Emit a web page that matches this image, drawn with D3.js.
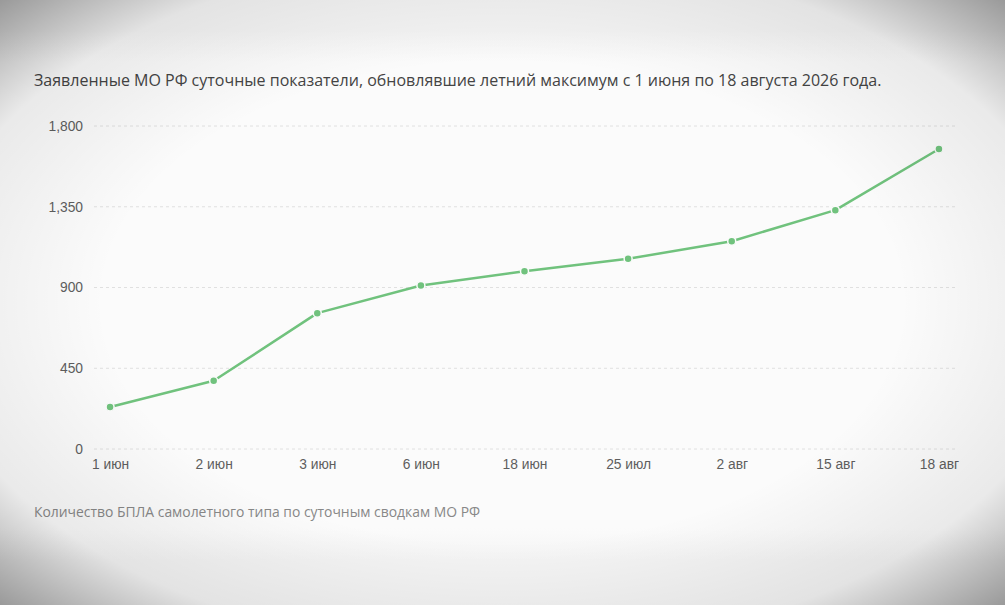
<!DOCTYPE html>
<html>
<head>
<meta charset="utf-8">
<script src="https://cdn.jsdelivr.net/npm/d3@7"></script>
<style>
    html, body { margin: 0; padding: 0; background: #f4f4f4; }
    svg { display: block; font-family: "Open Sans", "Noto Sans", sans-serif; }
    .grid line { stroke: #e0e0e0; stroke-dasharray: 3 3; }
    .axis text { fill: #5e5e5e; font-size: 13.8px; }
    .title { fill: #444; font-size: 16px; }
    .note { fill: #888; font-size: 13.9px; }
</style>
</head>
<body>
<svg id="chart" width="1005" height="605"></svg>
<script>

const dates = ["1 июн", "2 июн", "3 июн", "6 июн", "18 июн", "25 июл", "2 авг", "15 авг", "18 авг"];
const drones = [234, 380, 757, 911, 991, 1060, 1158, 1331, 1672];
const yTicks = [0, 450, 900, 1350, 1800];

const titleText = "Заявленные МО РФ суточные показатели, обновлявшие летний максимум с 1 июня по 18 августа 2026 года.";
const noteText = "Количество БПЛА самолетного типа по суточным сводкам МО РФ";

const svg = d3.select("#chart");
const width = 1005, height = 605;
const margin = { left: 94, right: 50, top: 126, bottom: 156 };

let defs = svg.append("defs");

// soft panel behind the chart
let panelGrad = defs.append("linearGradient")
    .attr("id", "panel")
    .attr("x1", 0).attr("y1", 0).attr("x2", 0).attr("y2", 1);
panelGrad.append("stop").attr("offset", "0").attr("stop-color", "#fbfbfb").attr("stop-opacity", 0);
panelGrad.append("stop").attr("offset", "0.06").attr("stop-color", "#fbfbfb").attr("stop-opacity", 1);
panelGrad.append("stop").attr("offset", "0.94").attr("stop-color", "#fbfbfb").attr("stop-opacity", 1);
panelGrad.append("stop").attr("offset", "1").attr("stop-color", "#fbfbfb").attr("stop-opacity", 0);

svg.append("rect")
    .attr("x", 0).attr("y", 30)
    .attr("width", width).attr("height", 530)
    .attr("fill", "url(#panel)");

let x = d3.scalePoint()
    .domain(dates)
    .range([margin.left, width - margin.right])
    .padding(0.155);

let y = d3.scaleLinear()
    .domain([0, 1800])
    .range([height - margin.bottom, margin.top]);

// grid
svg.append("g")
    .classed("grid", true)
    .selectAll("line")
    .data(yTicks)
    .enter()
    .append("line")
        .attr("x1", margin.left)
        .attr("x2", width - margin.right)
        .attr("y1", d => y(d))
        .attr("y2", d => y(d));

// y axis labels
svg.append("g")
    .classed("axis", true)
    .attr("transform", `translate(${margin.left}, 0)`)
    .call(d3.axisLeft(y).tickValues(yTicks).tickSize(0).tickPadding(11).tickFormat(d3.format(",")))
    .call(g => g.select(".domain").remove());

// x axis labels
svg.append("g")
    .classed("axis", true)
    .attr("transform", `translate(0, ${y(0)})`)
    .call(d3.axisBottom(x).tickSize(0).tickPadding(10))
    .call(g => g.select(".domain").remove());

// line
let line = d3.line()
    .x((d, i) => x(dates[i]))
    .y(d => y(d));

svg.append("path")
    .datum(drones)
    .attr("fill", "none")
    .attr("stroke", "#70c27d")
    .attr("stroke-width", 2.5)
    .attr("stroke-linejoin", "round")
    .attr("d", line);

svg.append("g")
    .selectAll("circle")
    .data(drones)
    .enter()
    .append("circle")
        .attr("cx", (d, i) => x(dates[i]))
        .attr("cy", d => y(d))
        .attr("r", 4)
        .attr("fill", "#70c27d")
        .attr("stroke", "#fbfbfb")
        .attr("stroke-width", 1.5);

// texts
svg.append("text")
    .classed("title", true)
    .attr("x", 34)
    .attr("y", 86)
    .text(titleText);

svg.append("text")
    .classed("note", true)
    .attr("x", 34)
    .attr("y", 517)
    .text(noteText);

// photo vignette
let grad = defs.append("radialGradient")
    .attr("id", "vignette")
    .attr("cx", "50%").attr("cy", "50%")
    .attr("r", "72%");
grad.append("stop").attr("offset", "0.55").attr("stop-color", "#000").attr("stop-opacity", 0);
grad.append("stop").attr("offset", "0.8").attr("stop-color", "#000").attr("stop-opacity", 0.07);
grad.append("stop").attr("offset", "1").attr("stop-color", "#000").attr("stop-opacity", 0.4);

svg.append("rect")
    .attr("width", width)
    .attr("height", height)
    .attr("fill", "url(#vignette)")
    .attr("pointer-events", "none");

</script>
</body>
</html>
